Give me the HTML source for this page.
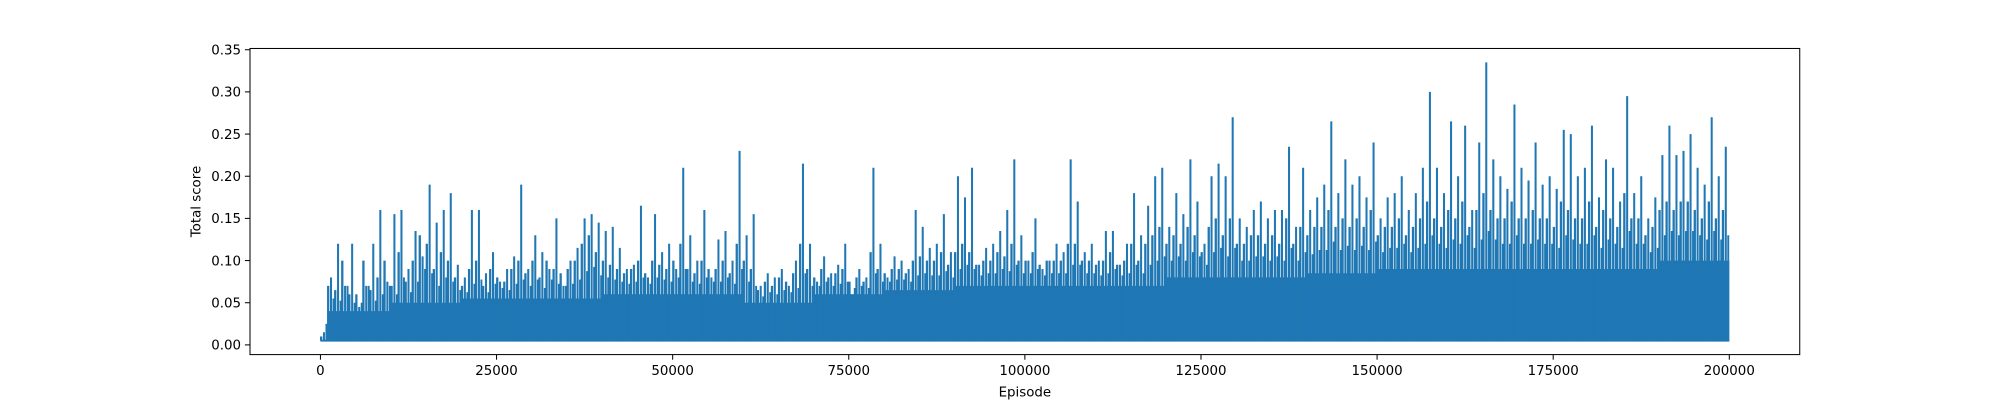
<!DOCTYPE html>
<html><head><meta charset="utf-8"><style>
body{margin:0;background:#fff}
svg{display:block;font-family:"DejaVu Sans","Liberation Sans",sans-serif}
</style></head><body>
<svg id="chart" width="2000" height="400" viewBox="0 0 1568 313.6" preserveAspectRatio="none" xmlns="http://www.w3.org/2000/svg">
<rect width="1568" height="313.6" fill="#fff"/>
<g id="plot"></g>
<rect x="196" y="38" width="1215" height="240" fill="none" stroke="#000" stroke-width="0.8"/>
<g id="xticks"></g>
<g id="yticks"></g>
<text x="803.5" y="311" font-size="10.5" text-anchor="middle">Episode</text>
<text transform="translate(157,158) rotate(-90)" font-size="10.5" text-anchor="middle">Total score</text>
</svg>
<script>
const peaks = [
0.015,0.08,0.12,0.07,0.12,0.045,0.07,0.12,0.16,0.075,
0.155,0.16,0.09,0.135,0.105,0.19,0.145,0.16,0.18,0.095,
0.08,0.16,0.16,0.085,0.11,0.075,0.09,0.105,0.19,0.09,
0.13,0.11,0.09,0.15,0.07,0.1,0.115,0.15,0.155,0.145,
0.135,0.14,0.115,0.09,0.095,0.165,0.08,0.155,0.11,0.12,
0.09,0.21,0.13,0.1,0.16,0.08,0.125,0.135,0.1,0.23,
0.13,0.155,0.07,0.085,0.08,0.09,0.07,0.1,0.215,0.12,
0.075,0.105,0.085,0.095,0.12,0.06,0.09,0.08,0.21,0.12,
0.08,0.105,0.1,0.09,0.16,0.14,0.115,0.12,0.155,0.11,
0.2,0.175,0.21,0.095,0.115,0.12,0.135,0.16,0.22,0.13,
0.1,0.15,0.09,0.1,0.12,0.11,0.22,0.17,0.11,0.12,
0.1,0.135,0.135,0.095,0.12,0.18,0.13,0.165,0.2,0.21,
0.14,0.18,0.155,0.22,0.17,0.12,0.2,0.215,0.2,0.27,
0.15,0.14,0.16,0.17,0.15,0.16,0.16,0.235,0.14,0.21,
0.16,0.175,0.19,0.265,0.18,0.22,0.19,0.2,0.175,0.24,
0.15,0.175,0.18,0.2,0.16,0.18,0.21,0.3,0.21,0.18,
0.265,0.2,0.26,0.16,0.24,0.335,0.22,0.2,0.185,0.285,
0.21,0.195,0.24,0.19,0.2,0.185,0.255,0.25,0.2,0.21,
0.26,0.175,0.22,0.21,0.17,0.295,0.18,0.2,0.15,0.175,
0.225,0.26,0.225,0.23,0.25,0.21,0.19,0.27,0.2,0.235];
const midPeaks = [
0.01,0.07,0.065,0.1,0.06,0.06,0.1,0.065,0.08,0.1,
0.07,0.11,0.075,0.1,0.13,0.12,0.09,0.11,0.1,0.08,
0.07,0.09,0.1,0.07,0.09,0.08,0.075,0.09,0.1,0.085,
0.1,0.08,0.1,0.09,0.085,0.09,0.1,0.12,0.13,0.11,
0.1,0.095,0.09,0.085,0.09,0.1,0.085,0.1,0.095,0.09,
0.1,0.12,0.09,0.085,0.1,0.09,0.09,0.1,0.085,0.12,
0.1,0.09,0.065,0.075,0.07,0.08,0.075,0.085,0.12,0.09,
0.08,0.09,0.08,0.085,0.09,0.075,0.08,0.075,0.11,0.09,
0.085,0.09,0.09,0.085,0.1,0.105,0.1,0.1,0.11,0.095,
0.11,0.12,0.11,0.095,0.1,0.1,0.11,0.105,0.12,0.1,
0.1,0.11,0.095,0.1,0.1,0.1,0.12,0.12,0.1,0.1,
0.095,0.1,0.11,0.095,0.1,0.12,0.1,0.12,0.13,0.14,
0.12,0.13,0.12,0.14,0.13,0.11,0.14,0.15,0.13,0.15,
0.12,0.12,0.13,0.13,0.12,0.13,0.12,0.15,0.12,0.14,
0.13,0.14,0.14,0.16,0.14,0.15,0.14,0.15,0.14,0.16,
0.13,0.14,0.14,0.15,0.13,0.14,0.15,0.17,0.15,0.14,
0.16,0.15,0.17,0.14,0.16,0.18,0.16,0.15,0.15,0.17,
0.15,0.15,0.16,0.15,0.15,0.14,0.17,0.16,0.15,0.15,
0.17,0.14,0.16,0.15,0.14,0.18,0.15,0.15,0.13,0.14,
0.16,0.17,0.16,0.17,0.17,0.16,0.15,0.17,0.15,0.16];
const floors = [0.04,0.05,0.055,0.055,0.06,0.06,0.05,0.06,0.065,0.07,0.07,0.07,0.08,0.08,0.085,0.09,0.09,0.09,0.09,0.1];
const baseValue = 0.005;
const binSize = 1000;
const floorBin = 10000;
const xTicks = [0,25000,50000,75000,100000,125000,150000,175000,200000];
const yTicks = [0,0.05,0.10,0.15,0.20,0.25,0.30,0.35];
const yTickLabels = ["0.00","0.05","0.10","0.15","0.20","0.25","0.30","0.35"];

const NS="http://www.w3.org/2000/svg";
const X0=196,X1=1411,Y0=278,Y1=38;
const xMin=-10000,xMax=210000,yMin=-0.0115,yMax=0.3515;
const sx=v=>X0+(v-xMin)/(xMax-xMin)*(X1-X0);
const sy=v=>Y0-(v-yMin)/(yMax-yMin)*(Y0-Y1);
const color="#1f77b4";
const plot=document.getElementById('plot');

let pts=[[sx(1000),sy(baseValue)]];
floors.forEach((f,i)=>{
  const a=Math.max(i*floorBin,1000), b=(i+1)*floorBin;
  pts.push([sx(a),sy(f)],[sx(b),sy(f)]);
});
pts.push([sx(200000),sy(baseValue)]);
const poly=document.createElementNS(NS,'polygon');


poly.setAttribute('points',pts.map(p=>p.join(',')).join(' '));
poly.setAttribute('fill',color);
plot.appendChild(poly);

const base=document.createElementNS(NS,'line');


base.setAttribute('x1',sx(0));base.setAttribute('x2',sx(200000));
base.setAttribute('y1',sy(baseValue));base.setAttribute('y2',sy(baseValue));
base.setAttribute('stroke',color);base.setAttribute('stroke-width','1.5');
plot.appendChild(base);

function spike(ep,val,w){
  const l=document.createElementNS(NS,'line');
  
  
  const x=sx(ep);
  l.setAttribute('x1',x);l.setAttribute('x2',x);
  l.setAttribute('y1',sy(baseValue));l.setAttribute('y2',sy(val));
  l.setAttribute('stroke',color);l.setAttribute('stroke-width',w);
  plot.appendChild(l);
}
midPeaks.forEach((p,i)=>spike(i*binSize+100,p,'1.8'));
midPeaks.forEach((p,i)=>spike(i*binSize+850,(p+floors[Math.floor(i*binSize/floorBin)])/2,'1.5'));
peaks.forEach((p,i)=>spike(i*binSize+500,p,'1.6'));

const xg=document.getElementById('xticks');
xTicks.forEach(t=>{
  const x=sx(t);
  const l=document.createElementNS(NS,'line');
  
  
  l.setAttribute('x1',x);l.setAttribute('x2',x);l.setAttribute('y1',Y0);l.setAttribute('y2',Y0+4);
  l.setAttribute('stroke','#000');l.setAttribute('stroke-width','0.8');
  xg.appendChild(l);
  const tx=document.createElementNS(NS,'text');
  
  
  tx.setAttribute('x',x);tx.setAttribute('y',Y0+16);
  tx.setAttribute('font-size','10.5');tx.setAttribute('text-anchor','middle');
  tx.textContent=String(t);
  xg.appendChild(tx);
});
const yg=document.getElementById('yticks');
yTicks.forEach((t,i)=>{
  const y=sy(t);
  const l=document.createElementNS(NS,'line');
  
  
  l.setAttribute('x1',X0-4);l.setAttribute('x2',X0);l.setAttribute('y1',y);l.setAttribute('y2',y);
  l.setAttribute('stroke','#000');l.setAttribute('stroke-width','0.8');
  yg.appendChild(l);
  const tx=document.createElementNS(NS,'text');
  
  
  tx.setAttribute('x',X0-7);tx.setAttribute('y',y+3.8);
  tx.setAttribute('font-size','10.5');tx.setAttribute('text-anchor','end');
  tx.textContent=yTickLabels[i];
  yg.appendChild(tx);
});
</script>
</body></html>
